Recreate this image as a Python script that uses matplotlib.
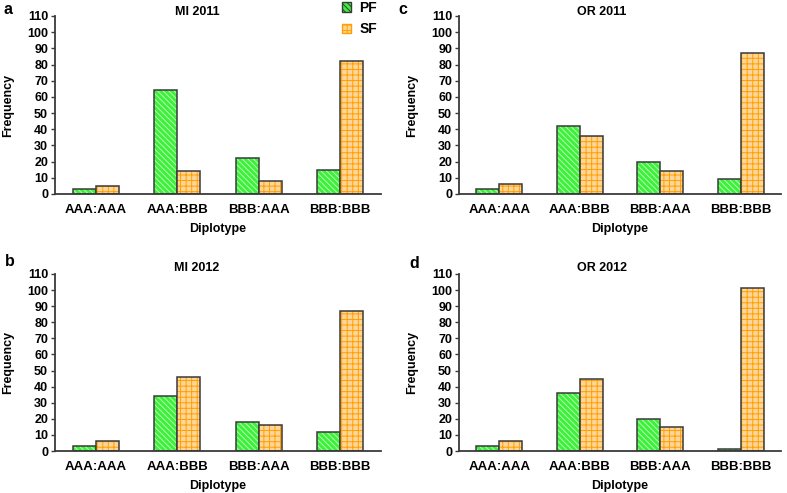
import matplotlib
matplotlib.use("Agg")
from matplotlib import pyplot as plt
from matplotlib.patches import Patch
import numpy as np

plt.rcParams['font.family'] = ['Liberation Sans', 'DejaVu Sans']
plt.rcParams['font.weight'] = 'bold'
plt.rcParams['axes.labelweight'] = 'bold'
plt.rcParams['hatch.linewidth'] = 0.7

categories = ["AAA:AAA", "AAA:BBB", "BBB:AAA", "BBB:BBB"]
series_names = ["PF", "SF"]

mi2011_pf = [3, 64, 22, 15]
mi2011_sf = [5, 14, 8, 82]
or2011_pf = [3, 42, 20, 9]
or2011_sf = [6, 36, 14, 87]
mi2012_pf = [3, 34, 18, 12]
mi2012_sf = [6, 46, 16, 87]
or2012_pf = [3, 36, 20, 1]
or2012_sf = [6, 45, 15, 101]

panels = [
    ("a", "MI 2011", mi2011_pf, mi2011_sf),
    ("c", "OR 2011", or2011_pf, or2011_sf),
    ("b", "MI 2012", mi2012_pf, mi2012_sf),
    ("d", "OR 2012", or2012_pf, or2012_sf),
]

W, H = 787, 493
# axes boxes in pixels: left, right, top, bottom
boxes = [
    (55, 381, 16, 194),
    (459, 781, 16, 194),
    (55, 381, 274, 451),
    (459, 781, 274, 451),
]
title_pos = [(197, 12), (602, 12), (197, 268), (602, 268)]
letter_pos = [(4, 10), (398, 10), (5, 262), (409, 263)]

edge = "#3a3a3a"
pf_face, pf_hatch = "#3cf03c", "#b8ffb0"
sf_face, sf_hatch = "#ffd699", "#ff9f00"
pf_pat, sf_pat = '\\\\\\\\\\\\', '+++'
bw = 0.285


def hatched_bars(ax, x, vals, face, hcol, hatch):
    ax.bar(x, vals, bw, color=face, edgecolor=hcol, hatch=hatch, linewidth=0)
    ax.bar(x, vals, bw, fill=False, edgecolor=edge, linewidth=1.1)


fig = plt.figure(figsize=(W / 100, H / 100), dpi=100)

for (letter, title, pf, sf), (l, r, t, b), (tx, ty), (lx, ly) in zip(
        panels, boxes, title_pos, letter_pos):
    ax = fig.add_axes([l / W, 1 - b / H, (r - l) / W, (b - t) / H])
    x = np.arange(len(categories))
    hatched_bars(ax, x - bw / 2, pf, pf_face, pf_hatch, pf_pat)
    hatched_bars(ax, x + bw / 2, sf, sf_face, sf_hatch, sf_pat)
    ax.set_xlim(-0.5, 3.5)
    ax.set_ylim(0, 110)
    ax.set_yticks(np.arange(0, 111, 10))
    ax.set_xticks(x)
    ax.set_xticklabels(categories, fontsize=9.5)
    ax.tick_params(axis='y', labelsize=9, length=3, width=1, color=edge, pad=2)
    ax.tick_params(axis='x', length=0, pad=7)
    for s in ("top", "right"):
        ax.spines[s].set_visible(False)
    for s in ("left", "bottom"):
        ax.spines[s].set_color(edge)
        ax.spines[s].set_linewidth(1.3)
    ax.set_ylabel("Frequency", fontsize=9, labelpad=9)
    ax.set_xlabel("Diplotype", fontsize=9, labelpad=5)
    fig.text(tx / W, 1 - ty / H, title, ha='center', va='center', fontsize=9, fontweight='bold')
    fig.text(lx / W, 1 - ly / H, letter, ha='left', va='center', fontsize=11.5, fontweight='bold')

# legend
handles = [Patch(facecolor=pf_face, edgecolor=edge, hatch=pf_pat),
           Patch(facecolor=sf_face, edgecolor=sf_hatch, hatch=sf_pat)]
fig.legend(handles, series_names, loc='upper left', bbox_to_anchor=(336 / W, 1.01),
           frameon=False, prop={'size': 10, 'weight': 'bold'},
           handlelength=0.7, handleheight=0.7,
           labelspacing=0.55, handletextpad=0.6, borderaxespad=0.0)

fig.savefig("out.png", dpi=100)
